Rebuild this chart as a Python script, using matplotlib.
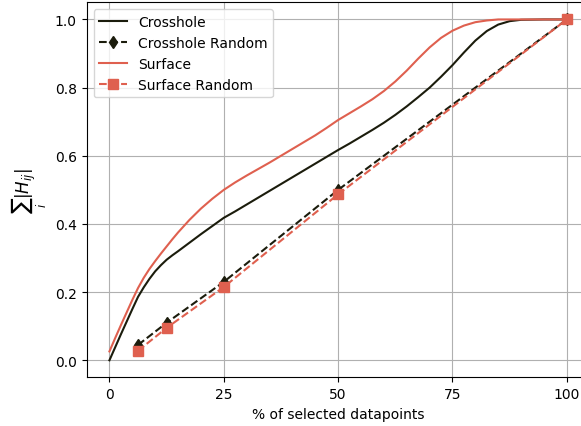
import matplotlib
matplotlib.use("Agg")
import matplotlib.pyplot as plt

# values
x_curve = [0, 1.25, 2.5, 3.75, 5, 6.25, 7.5, 8.75, 10, 11.25, 12.5, 13.75,
           15, 17.5, 20, 22.5, 25, 27.5, 30, 32.5, 35, 37.5, 40, 42.5, 45,
           47.5, 50, 52.5, 55, 57.5, 60, 62.5, 65, 67.5, 70, 72.5, 75, 77.5,
           80, 82.5, 85, 87.5, 90, 95, 100]
crosshole = [0.0, 0.038, 0.076, 0.113, 0.15, 0.186, 0.214, 0.239, 0.261, 0.279,
             0.295, 0.308, 0.32, 0.345, 0.37, 0.394, 0.418, 0.437, 0.457,
             0.477, 0.497, 0.517, 0.537, 0.557, 0.577, 0.597, 0.617, 0.636,
             0.656, 0.676, 0.697, 0.72, 0.745, 0.772, 0.80, 0.832, 0.866,
             0.903, 0.938, 0.966, 0.985, 0.995, 0.999, 1.0, 1.0]
surface = [0.026, 0.065, 0.103, 0.14, 0.177, 0.212, 0.242, 0.268, 0.291, 0.313,
           0.334, 0.355, 0.375, 0.412, 0.445, 0.474, 0.50, 0.522, 0.542, 0.561,
           0.58, 0.60, 0.62, 0.64, 0.66, 0.682, 0.705, 0.725, 0.745, 0.766,
           0.79, 0.818, 0.85, 0.885, 0.918, 0.946, 0.967, 0.982, 0.992, 0.997,
           1.0, 1.0, 1.0, 1.0, 1.0]

x_random = [6.25, 12.5, 25, 50, 100]
crosshole_random = [0.045, 0.11, 0.23, 0.5, 1.0]
surface_random = [0.028, 0.095, 0.215, 0.487, 1.0]

dark = "#1b1c0c"
red = "#df604f"

fig = plt.figure(figsize=(5.81, 4.27), dpi=100)
ax = fig.add_axes([0.149, 0.114, 0.866, 0.878])

ax.plot(x_curve, crosshole, color=dark, lw=1.5, label="Crosshole")
ax.plot(x_random, crosshole_random, color=dark, ls="--", marker="d",
        markersize=6, lw=1.5, label="Crosshole Random")
ax.plot(x_curve, surface, color=red, lw=1.5, label="Surface")
ax.plot(x_random, surface_random, color=red, ls="--", marker="s",
        markersize=7, lw=1.5, label="Surface Random")

ax.set_xticks([0, 25, 50, 75, 100])
ax.set_yticks([0.0, 0.2, 0.4, 0.6, 0.8, 1.0])
ax.grid(True, color="#b0b0b0")
ax.set_xlabel("% of selected datapoints")
ax.set_ylabel(r"$\sum_i |H_{ij}|$", fontsize=12)
ax.legend(loc="upper left")

fig.savefig("out.png", dpi=100)
